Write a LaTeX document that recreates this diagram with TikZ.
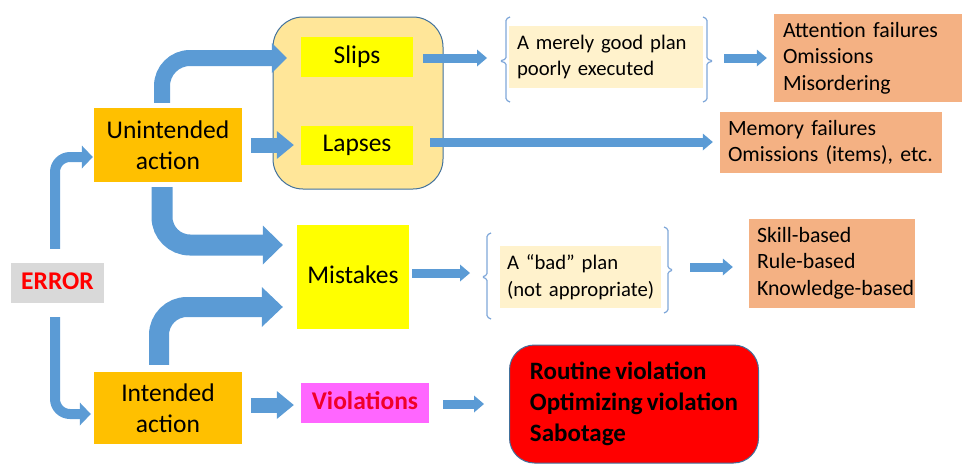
\documentclass[tikz,border=0pt]{standalone}
\usepackage{fontspec}
\setmainfont{Carlito}[WordSpace=0.75]
\usetikzlibrary{arrows.meta,calc}
\definecolor{ablue}{HTML}{5B9BD5}
\definecolor{bordc}{HTML}{41719C}
\definecolor{contfill}{HTML}{FFE699}
\definecolor{orangec}{HTML}{FFC000}
\definecolor{yel}{HTML}{FFFF00}
\definecolor{errgray}{HTML}{D9D9D9}
\definecolor{magc}{HTML}{FF66FF}
\definecolor{lightc}{HTML}{FFF2CC}
\definecolor{salmon}{HTML}{F4B183}
\definecolor{brc}{HTML}{7FA7D9}
\definecolor{redc}{HTML}{FF0000}
\definecolor{violtext}{HTML}{F0002A}
\hyphenpenalty=10000
\exhyphenpenalty=10000
\hbadness=10000
\hfuzz=100pt
\begin{document}
\begin{tikzpicture}[x=1pt,y=-1pt,
  lab/.style={inner sep=0pt, align=center, font=\fontsize{25.5}{31.5}\selectfont},
  oneline/.style={text height=18pt, text depth=6pt},
  sidebox/.style={inner ysep=0pt, align=left, fill=salmon, font=\fontsize{21.8}{26.5}\selectfont},
  planbox/.style={inner ysep=0pt, align=left, fill=lightc, font=\fontsize{20.7}{26.5}\selectfont},
  blockarrow/.style n args={3}{draw=ablue, line width=#1pt, rounded corners=28pt,
     -{Triangle[width=#2pt,length=#3pt,line width=0pt]}},
  smallarrow/.style={draw=ablue, line width=10pt, rounded corners=15pt,
     -{Triangle[width=23pt,length=11pt,line width=0pt]}},
  thinarrow/.style={draw=ablue, line width=9pt,
     -{Triangle[width=17pt,length=10pt,line width=0pt]}},
  brk/.style={draw=brc, line width=1.2pt, rounded corners=1.5pt}
]
\useasboundingbox (0,0) rectangle (962,464);

% container
\node[draw=bordc, line width=1pt, fill=contfill, rounded corners=30pt,
      minimum width=170pt, minimum height=172pt] (cont) at (358,103) {};

% main nodes
\node[lab, oneline, fill=yel, minimum width=112pt, minimum height=40pt] (slips) at (357,57) {Slips};
\node[lab, oneline, fill=yel, minimum width=112pt, minimum height=39pt] (lapses) at (357,145.5) {Lapses};
\node[lab, fill=orangec, minimum width=148pt, minimum height=74pt] (ua) at (168,145) {Unintended\\action};
\node[lab, fill=orangec, minimum width=148pt, minimum height=72pt] (ia) at (168,408) {Intended\\action};
\node[lab, oneline, fill=errgray, text=redc, minimum width=93pt, minimum height=40pt,
      font=\fontsize{25.5}{31}\selectfont\bfseries] (err) at (57.5,283) {ERROR};
\node[lab, oneline, fill=yel, minimum width=112pt, minimum height=104pt] (mist) at (353,277) {Mistakes};
\node[lab, oneline, fill=magc, text=violtext, minimum width=128pt, minimum height=40pt,
      font=\fontsize{25.5}{31}\selectfont\bfseries] (viol) at (365,403) {Violations};

% plan texts
\node[planbox, text width=178pt, inner xsep=8pt, minimum height=62pt] (plan1) at (606,57)
  {\mbox{A merely good plan}\\\mbox{poorly executed}};
\node[planbox, text width=147pt, inner xsep=7pt, minimum height=62pt] (plan2) at (580.5,277)
  {\mbox{A “bad” plan}\\\mbox{(not appropriate)}};

% result boxes
\node[sidebox, text width=172pt, inner xsep=9pt, minimum height=88pt] (att) at (869,58)
  {\mbox{Attention failures}\\Omissions\\Misordering};
\node[sidebox, text width=206pt, inner xsep=8pt, minimum height=61pt] (mem) at (831,142.5)
  {\mbox{Memory failures}\\\mbox{Omissions (items), etc.}};
\node[sidebox, text width=150pt, inner xsep=8pt, minimum height=89pt] (skill) at (832,263)
  {Skill-based\\Rule-based\\\mbox{Knowledge-based}};
\node[fill=redc, draw=bordc, line width=1pt, rounded corners=25pt, inner sep=0pt,
      minimum width=249pt, minimum height=118pt, align=left,
      font=\fontsize{25}{31}\selectfont\bfseries] (viols) at (634,404)
  {Routine violation\\Optimizing violation\\Sabotage};

% brackets
\coordinate (b1L) at (500,61);
\coordinate (b1R) at (713,61);
\coordinate (b2L) at (482,277);
\coordinate (b2R) at (673,270);
\draw[brk] (510,17) -- (506,19) -- (506,59) -- (b1L) -- (506,63) -- (506,100) -- (510,102);
\draw[brk] (703,17) -- (707,19) -- (707,59) -- (b1R) -- (707,63) -- (707,100) -- (703,102);
\draw[brk] (491,233) -- (487,235) -- (487,275) -- (b2L) -- (487,279) -- (487,317) -- (491,319);
\draw[brk] (664,227) -- (668,229) -- (668,268) -- (b2R) -- (668,272) -- (668,311) -- (664,313);

% block arrows
\draw[blockarrow={16}{30}{15}] ($(ua.north)+(-6,-5)$) |- ($(slips.west)+(-14,1)$);
\draw[blockarrow={21}{39}{20}] ($(ua.south)+(-6,5)$) |- ($(mist.west)+(-14,-32)$);
\draw[blockarrow={20}{40}{21}] ($(ia.north)+(-9,-7)$) |- ($(mist.west)+(-14,30)$);
\draw[blockarrow={15}{28}{17}] ($(ua.east)+(9,0)$) -- ($(lapses.west)+(-7,-0.5)$);
\draw[blockarrow={15}{28}{17}] ($(ia.east)+(9,-3)$) -- ($(viol.west)+(-7,2)$);

% ERROR arrows
\draw[smallarrow] ($(err.north)+(-2.5,-14)$) |- ($(ua.west)+(-1,12)$);
\draw[smallarrow] ($(err.south)+(-2.5,14)$) |- ($(ia.west)+(-3,6)$);

% thin arrows
\draw[thinarrow] ($(slips.east)+(10,1)$) -- ($(b1L)+(-13,-3)$);
\draw[thinarrow] ($(b1R)+(11,-3)$) -- ($(att.west)+(-7,0)$);
\draw[thinarrow] ($(lapses.east)+(17,-3.5)$) -- ($(mem.west)+(-7,-0.5)$);
\draw[thinarrow] ($(mist.east)+(3,-4)$) -- ($(b2L)+(-12,-4)$);
\draw[thinarrow] ($(b2R)+(17,-3)$) -- ($(skill.west)+(-16,4)$);
\draw[thinarrow] ($(viol.east)+(14,1)$) -- ($(viols.west)+(-25,0)$);
\end{tikzpicture}
\end{document}
